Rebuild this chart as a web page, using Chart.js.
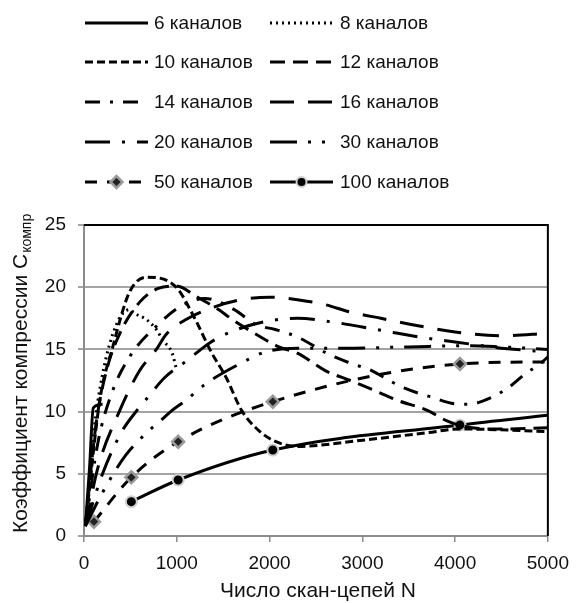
<!DOCTYPE html>
<html>
<head>
<meta charset="utf-8">
<script src="https://cdn.jsdelivr.net/npm/chart.js@4.4.1/dist/chart.umd.min.js"></script>
<style>
html,body{margin:0;padding:0;background:#fff;}
#wrap{position:relative;width:579px;height:603px;}
</style>
</head>
<body>
<div id="wrap"><canvas id="c" width="579" height="603"></canvas></div>
<script>
// ---- data ----
const seriesLabels = ['6 каналов','8 каналов','10 каналов','12 каналов','14 каналов','16 каналов','20 каналов','30 каналов','50 каналов','100 каналов'];
const xTicks = [0,1000,2000,3000,4000,5000];
const yTicks = [0,5,10,15,20,25];

const N6  = [15, 60, 100, 200];
const C6  = [0.8, 5.5, 10.3, 10.6];
const N8  = [15, 100, 200, 350, 490, 545, 673, 780, 844, 950, 1000];
const C8  = [0.8, 8, 13, 17, 18.2, 17.9, 17.4, 16.6, 15.8, 14.7, 13.3];
const N10 = [15, 170, 310, 490, 680, 994, 1186, 1378, 1528, 1699, 1880, 2062, 2300, 3000, 3700, 4050, 5000];
const C10 = [0.8, 10.9, 15.2, 19.6, 20.8, 20.0, 17.6, 14.7, 12.8, 10.1, 8.5, 7.6, 7.2, 7.7, 8.3, 8.6, 8.4];
const N12 = [15, 130, 250, 400, 600, 800, 1000, 1200, 1450, 1600, 1950, 2100, 2300, 2600, 2870, 3130, 3380, 3700, 3900, 4100, 4500, 5000];
const C12 = [0.8, 9, 13.5, 16.5, 18.8, 19.9, 20.1, 19.3, 18.2, 17.4, 15.8, 15.2, 14.7, 13.3, 12.5, 11.7, 10.9, 10.1, 9.3, 8.8, 8.6, 8.7];
const N14 = [15, 150, 300, 500, 800, 1050, 1300, 1620, 1850, 2060, 2300, 2640, 2870, 3100, 3290, 3450, 3730, 4050, 4160, 4350, 4570, 4750, 4925, 5000];
const C14 = [0.8, 7.5, 11.5, 14.5, 17, 18.5, 19.1, 18.2, 17, 16.6, 16.0, 14.6, 13.9, 13.3, 12.5, 11.9, 11.2, 10.6, 10.6, 11.0, 11.9, 13.0, 13.9, 14.4];
const N16 = [15, 150, 380, 600, 780, 885, 1100, 1400, 1700, 2000, 2300, 2600, 2870, 3200, 3600, 4000, 4500, 5000];
const C16 = [0.8, 5.5, 10, 13.3, 15, 16.2, 17.4, 18.4, 19.0, 19.2, 19.0, 18.6, 18.0, 17.5, 16.9, 16.4, 16.1, 16.3];
const N20 = [15, 200, 400, 560, 705, 865, 1110, 1370, 1650, 2000, 2300, 2680, 3000, 3300, 3700, 4000, 4500, 5000];
const C20 = [0.8, 5, 8.3, 10, 11.3, 12.7, 14.1, 15.6, 16.6, 17.3, 17.5, 17.2, 16.8, 16.4, 15.9, 15.6, 15.1, 14.8];
const N30 = [15, 200, 450, 705, 830, 950, 1080, 1325, 1720, 1955, 2300, 2800, 3500, 4100, 4500, 5000];
const C30 = [0.8, 3.5, 6.5, 8.5, 9.3, 10.1, 10.8, 12.3, 14.0, 14.8, 15.1, 15.1, 15.2, 15.3, 15.2, 15.0];
const N50 = [107, 510, 1015, 2035, 4052, 5000];
const C50 = [1.15, 4.72, 7.58, 10.8, 13.83, 14.0];
const N100 = [510, 1015, 2035, 4052, 5000];
const C100 = [2.76, 4.5, 6.91, 8.92, 9.7];

const allN = [N6,N8,N10,N12,N14,N16,N20,N30,N50,N100];
const allC = [C6,C8,C10,C12,C14,C16,C20,C30,C50,C100];

// ---- styles ----
const dashes = [[],[2,4],[8,4],[15,8],[15,10,3,10],[24,14],[25,12,3,12],[27,11,3,11,3,11],[12,10],[]];
const FONT = '"Liberation Sans", Arial, sans-serif';

const datasets = seriesLabels.map((lab,i)=>{
  const pts = allN[i].map((n,k)=>({x:n,y:allC[i][k]}));
  const ds = {
    label: lab, data: pts, borderColor:'#000', borderWidth:3, borderDash:dashes[i],
    borderCapStyle:'butt', fill:false, cubicInterpolationMode:'monotone', pointRadius:0, pointHoverRadius:0
  };
  if(i===8){
    ds.pointStyle='rectRot'; ds.pointRadius=(c)=> (c.raw && c.raw.x>=5000)?0:6;
    ds.pointBackgroundColor='#222'; ds.pointBorderColor='#9a9a9a'; ds.pointBorderWidth=2.5;
  }
  if(i===9){
    ds.pointStyle='circle'; ds.pointRadius=(c)=> (c.raw && c.raw.x>=5000)?0:5.5;
    ds.pointBackgroundColor='#000'; ds.pointBorderColor='#cfcfcf'; ds.pointBorderWidth=2;
  }
  return ds;
});

const decor = {
  id:'decor',
  afterDraw(chart){
    const ctx = chart.ctx, a = chart.chartArea;
    ctx.save();
    // frame top/right
    ctx.strokeStyle='#000'; ctx.lineWidth=2; ctx.setLineDash([]);
    ctx.beginPath(); ctx.moveTo(a.left,a.top); ctx.lineTo(a.right,a.top); ctx.lineTo(a.right,a.bottom); ctx.stroke();
    // legend
    ctx.font = '19px '+FONT; ctx.fillStyle='#111'; ctx.textBaseline='middle'; ctx.textAlign='left';
    const rowsY=[23,62,102,142,182];
    chart.data.datasets.forEach((ds,i)=>{
      const col=i%2, row=Math.floor(i/2);
      const x0 = col===0?85:270, x1=col===0?148:333, tx=col===0?154:340, y=rowsY[row];
      ctx.save();
      ctx.strokeStyle='#000'; ctx.lineWidth=3; ctx.lineCap='butt'; ctx.setLineDash(ds.borderDash||[]);
      ctx.beginPath(); ctx.moveTo(x0,y); ctx.lineTo(x1,y); ctx.stroke();
      ctx.setLineDash([]);
      if(i>=8){
        ctx.fillStyle=ds.pointBackgroundColor; ctx.strokeStyle=ds.pointBorderColor; ctx.lineWidth=ds.pointBorderWidth;
        Chart.helpers.drawPoint(ctx,{pointStyle:ds.pointStyle,radius:i===8?6:5,rotation:0,borderWidth:ds.pointBorderWidth},(x0+x1)/2,y);
      }
      ctx.restore();
      ctx.fillText(ds.label, tx, y+1);
    });
    // axis titles
    ctx.fillStyle='#111';
    ctx.font='21px '+FONT;
    ctx.textAlign='center'; ctx.textBaseline='middle';
    ctx.fillText('Число скан-цепей N', 318, 591);
    ctx.save();
    ctx.translate(21, 533);
    ctx.rotate(-Math.PI/2);
    ctx.textAlign='left'; ctx.textBaseline='middle';
    const main='Коэффициент компрессии C';
    ctx.font='21px '+FONT;
    ctx.fillText(main,0,0);
    const w=ctx.measureText(main).width;
    ctx.font='14px '+FONT;
    ctx.fillText('компр', w+1, 6);
    ctx.restore();
    ctx.restore();
  }
};

new Chart(document.getElementById('c'),{
  type:'line',
  data:{datasets},
  options:{
    responsive:false, animation:false, devicePixelRatio:1,
    layout:{padding:{top:225,left:0,right:27,bottom:0}},
    plugins:{legend:{display:false},tooltip:{enabled:false}},
    scales:{
      x:{type:'linear',min:0,max:5000,
        afterBuildTicks:(s)=>{s.ticks=xTicks.map(v=>({value:v}));},
        afterFit:(s)=>{s.height=67;},
        ticks:{font:{family:FONT,size:19},color:'#111',padding:10,maxRotation:0,callback:(v)=>String(v)},
        grid:{drawOnChartArea:false,drawTicks:true,tickLength:6,color:'#8c8c8c',lineWidth:1.5},
        border:{display:true,color:'#8c8c8c',width:2}
      },
      y:{min:0,max:25,
        afterBuildTicks:(s)=>{s.ticks=yTicks.map(v=>({value:v}));},
        afterFit:(s)=>{s.width=84;},
        ticks:{font:{family:FONT,size:19},color:'#111',padding:12,callback:(v)=>String(v)},
        grid:{drawOnChartArea:true,drawTicks:true,tickLength:6,color:'#a3a3a3',lineWidth:2},
        border:{display:true,color:'#8c8c8c',width:2}
      }
    }
  },
  plugins:[decor]
});
</script>
</body>
</html>
